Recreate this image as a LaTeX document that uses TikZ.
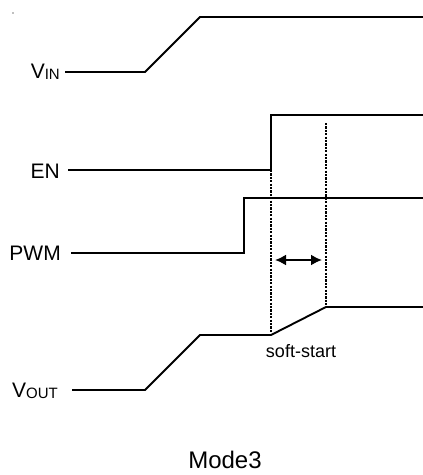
\documentclass[tikz,border=0pt]{standalone}
\usepackage{fontspec}
\setmainfont{Liberation Sans}
\usetikzlibrary{arrows.meta}
\tikzset{
  sig/.style={line width=1.9pt, line join=miter},
  guide/.style={line width=2.8pt, dash pattern=on 2.2pt off 1.2pt},
  lbl/.style={font=\fontsize{21}{25}\selectfont, inner sep=0pt, anchor=base east},
  note/.style={font=\fontsize{18}{22}\selectfont, inner sep=0pt, anchor=base},
}
\newcommand{\sub}[1]{{\fontsize{15}{15}\selectfont\raisebox{-1.5pt}{#1}}}
\begin{document}
\begin{tikzpicture}[x=1pt,y=-1pt]
  \useasboundingbox (0,0) rectangle (423,475);
  \fill[gray] (13,13) circle (0.8);

  % signal names
  \node[lbl] (vin) at (60,78) {V\sub{IN}};
  \node[lbl] (en) at (60,178) {EN};
  \node[lbl] (pwm) at (61,260) {PWM};
  \node[lbl] (vout) at (58,397) {V\sub{OUT}};

  % waveforms
  \draw[sig] (65,72) -- (145,72) -- (200,17) -- (423,17);
  \draw[sig] (68,170) -- (271,170) -- (271,115) -- (423,115);
  \draw[sig] (71,253) -- (244,253) -- (244,198) -- (423,198);
  \draw[sig] (72,390) -- (145,390) -- (200,335) -- (271,335) -- (326,307) -- (423,307);

  % soft-start window
  \draw[guide] (271,170) -- (271,333);
  \draw[guide] (326,123) -- (326,306);
  \draw[line width=1.9pt, {Latex[length=11pt,width=11pt]}-{Latex[length=11pt,width=11pt]}] (275,260) -- (322,260);
  \node[note] (soft) at (301,357) {soft-start};

  \node[note, font=\fontsize{24}{28}\selectfont] (mode) at (225,468) {Mode3};
\end{tikzpicture}
\end{document}
